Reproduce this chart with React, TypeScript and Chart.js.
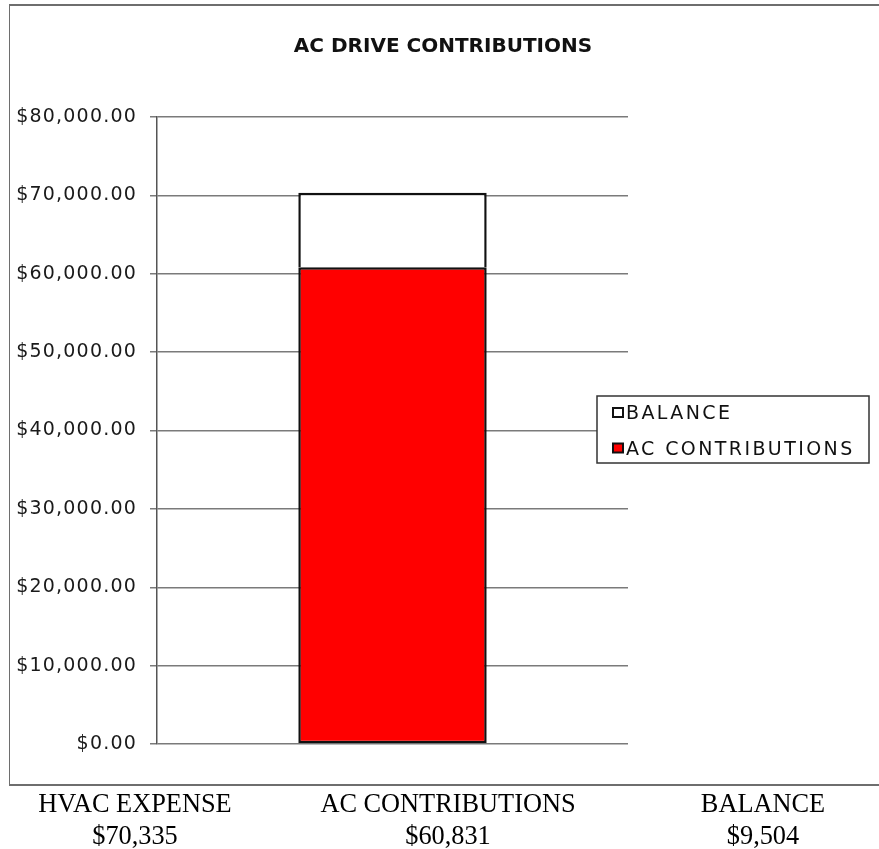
import React, { useEffect, useRef } from 'react';
import { Chart, registerables } from 'chart.js';

Chart.register(...registerables);

// ---- data ----
const TITLE = 'AC DRIVE CONTRIBUTIONS';
const CATEGORIES = ['AC DRIVE'];
const AC_CONTRIBUTIONS = [60831];
const BALANCE = [9504];
const Y_MIN = 0;
const Y_MAX = 80000;
const Y_STEP = 10000;
const SUMMARY_LABELS = ['HVAC EXPENSE', 'AC CONTRIBUTIONS', 'BALANCE'];
const SUMMARY_VALUES = [70335, 60831, 9504];

// ---- layout constants ----
const W = 879;
const CANVAS_H = 790;
const SUMMARY_CENTERS = [135, 448, 763];

const fmtMoney2 = (v: number) =>
  '$' + v.toLocaleString('en-US', { minimumFractionDigits: 2, maximumFractionDigits: 2 });
const fmtMoney0 = (v: number) => '$' + v.toLocaleString('en-US');

const customPlugin = {
  id: 'customDecor',
  beforeDraw(chart: any) {
    chart.ctx.letterSpacing = '1.2px';
  },
  afterDraw(chart: any) {
    const ctx = chart.ctx as CanvasRenderingContext2D;
    ctx.save();
    // title
    (ctx as any).letterSpacing = '0px';
    ctx.font = 'bold 20px "DejaVu Sans"';
    ctx.fillStyle = '#111';
    ctx.textAlign = 'center';
    ctx.textBaseline = 'alphabetic';
    ctx.fillText(chart.options.plugins.title.text, 443, 52);

    // legend box
    const lx = 597, ly = 396, lw = 272, lh = 67;
    ctx.fillStyle = '#ffffff';
    ctx.fillRect(lx, ly, lw, lh);
    ctx.strokeStyle = '#333';
    ctx.lineWidth = 1.5;
    ctx.strokeRect(lx, ly, lw, lh);

    const items = chart.data.datasets.slice().reverse();
    const baselines = [419, 454.5];
    (ctx as any).letterSpacing = '2.4px';
    ctx.font = '19px "DejaVu Sans"';
    ctx.textAlign = 'left';
    items.forEach((ds: any, i: number) => {
      const b = baselines[i];
      const sx = 613, sy = b - 11, sw = 10, sh = 9;
      ctx.fillStyle = ds.backgroundColor;
      ctx.fillRect(sx, sy, sw, sh);
      ctx.strokeStyle = '#111';
      ctx.lineWidth = 2;
      ctx.strokeRect(sx, sy, sw, sh);
      ctx.fillStyle = '#111';
      ctx.fillText(ds.label, 626, b);
    });
    ctx.restore();
  },
};

export default function App() {
  const ref = useRef<HTMLCanvasElement>(null);

  useEffect(() => {
    document.body.style.margin = '0';
    const canvas = ref.current!;
    const chart = new Chart(canvas, {
      type: 'bar',
      data: {
        labels: CATEGORIES,
        datasets: [
          {
            label: 'AC CONTRIBUTIONS',
            data: AC_CONTRIBUTIONS,
            backgroundColor: '#ff0000',
            borderColor: '#111',
            borderWidth: 2.5,
            borderSkipped: false,
            barPercentage: 0.4,
            categoryPercentage: 1,
          },
          {
            label: 'BALANCE',
            data: BALANCE,
            backgroundColor: '#ffffff',
            borderColor: '#111',
            borderWidth: 2.5,
            borderSkipped: 'start',
            barPercentage: 0.4,
            categoryPercentage: 1,
          },
        ],
      },
      options: {
        responsive: false,
        animation: false,
        layout: { padding: { top: 117, right: W - 628, bottom: CANVAS_H - 744, left: 0 } },
        plugins: {
          title: { display: false, text: TITLE },
          legend: { display: false },
          tooltip: { enabled: false },
        },
        scales: {
          x: { stacked: true, display: false },
          y: {
            stacked: true,
            min: Y_MIN,
            max: Y_MAX,
            afterFit: (scale: any) => {
              scale.width = 157;
            },
            ticks: {
              stepSize: Y_STEP,
              padding: 13,
              color: '#1a1a1a',
              font: { family: 'DejaVu Sans', size: 19 },
              callback: (v: any) => fmtMoney2(Number(v)),
            },
            grid: {
              color: '#7a7a7a',
              lineWidth: 1.5,
              tickLength: 7,
              drawTicks: true,
            },
            border: { display: true, color: '#555', width: 1.5 },
          },
        },
      },
      plugins: [customPlugin],
    } as any);
    return () => chart.destroy();
  }, []);

  return (
    <div style={{ position: 'relative', width: W, height: 849, overflow: 'hidden', background: '#fff' }}>
      <div
        style={{
          position: 'absolute',
          left: 9,
          top: 4,
          width: 900,
          height: 782,
          boxSizing: 'border-box',
          borderLeft: '1.5px solid #6e6e6e',
          borderTop: '2px solid #6e6e6e',
          borderBottom: '2px solid #6e6e6e',
        }}
      />
      <canvas
        ref={ref}
        width={W}
        height={CANVAS_H}
        style={{ position: 'absolute', left: 0, top: 0, width: W, height: CANVAS_H }}
      />
      {SUMMARY_LABELS.map((label, i) => (
        <div
          key={label}
          style={{
            position: 'absolute',
            left: SUMMARY_CENTERS[i] - 170,
            width: 340,
            top: 787,
            textAlign: 'center',
            fontFamily: '"Liberation Serif", "Times New Roman", serif',
            fontSize: 28,
            lineHeight: '32px',
            color: '#000',
            transform: 'scaleX(0.94)',
            whiteSpace: 'nowrap',
          }}
        >
          {label}
          <br />
          {fmtMoney0(SUMMARY_VALUES[i])}
        </div>
      ))}
    </div>
  );
}
